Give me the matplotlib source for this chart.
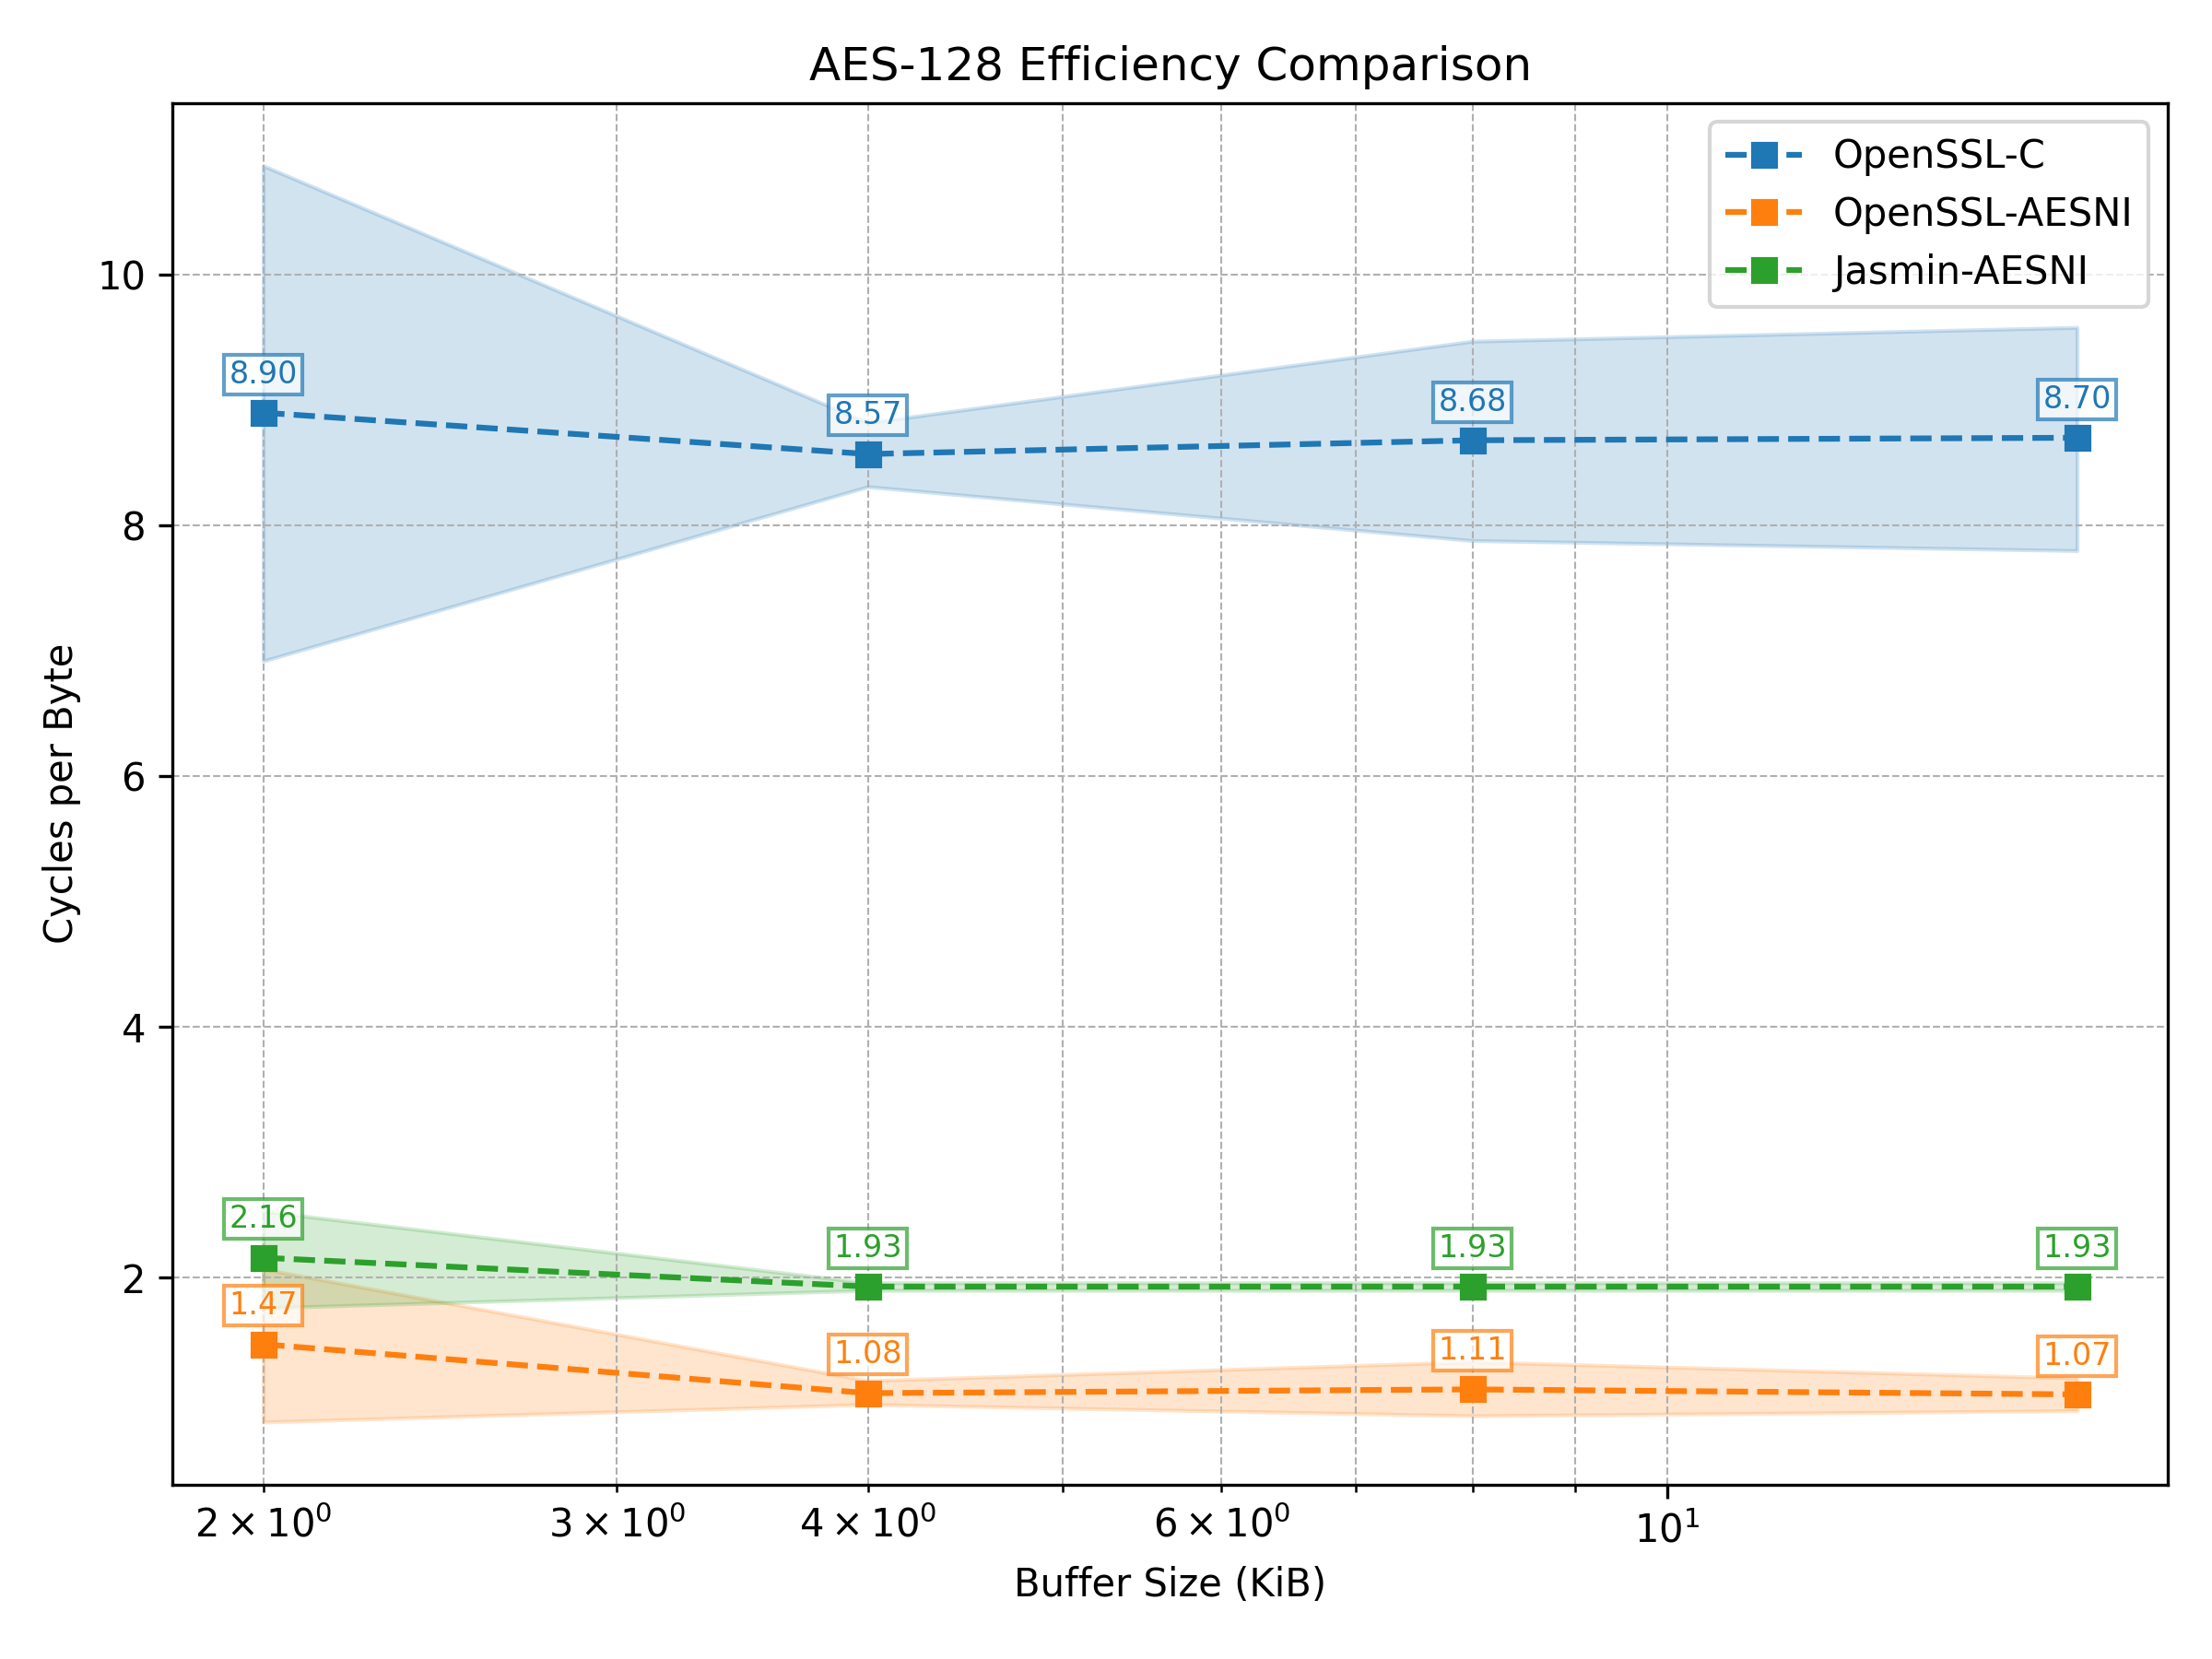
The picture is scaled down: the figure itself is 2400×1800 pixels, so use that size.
import matplotlib
matplotlib.use('Agg')
import matplotlib.pyplot as plt

sizes = [2, 4, 8, 16]

names = ['OpenSSL-C', 'OpenSSL-AESNI', 'Jasmin-AESNI']
means = {
    'OpenSSL-C': [8.90, 8.57, 8.68, 8.70],
    'OpenSSL-AESNI': [1.47, 1.08, 1.11, 1.07],
    'Jasmin-AESNI': [2.16, 1.93, 1.93, 1.93],
}
lower = {
    'OpenSSL-C': [6.92, 8.31, 7.88, 7.80],
    'OpenSSL-AESNI': [0.85, 0.99, 0.90, 0.94],
    'Jasmin-AESNI': [1.76, 1.90, 1.90, 1.90],
}
upper = {
    'OpenSSL-C': [10.87, 8.82, 9.47, 9.58],
    'OpenSSL-AESNI': [2.07, 1.18, 1.33, 1.20],
    'Jasmin-AESNI': [2.53, 1.96, 1.96, 1.96],
}
colors = ['#1f77b4', '#ff7f0e', '#2ca02c']

fig, ax = plt.subplots(figsize=(8, 6), dpi=300)

for name, c in zip(names, colors):
    ax.plot(sizes, means[name], '--s', color=c, label=name, markersize=6, linewidth=1.5)
    ax.fill_between(sizes, lower[name], upper[name], color=c, alpha=0.2)
    for x, y in zip(sizes, means[name]):
        ax.annotate(f'{y:.2f}', (x, y), textcoords='offset points', xytext=(0, 10),
                    ha='center', va='center', fontsize=8, color=c,
                    bbox=dict(boxstyle='square,pad=0.15', facecolor='white',
                              edgecolor=c, alpha=0.7))

ax.set_xscale('log')
ax.set_xlabel('Buffer Size (KiB)')
ax.set_ylabel('Cycles per Byte')
ax.set_title('AES-128 Efficiency Comparison')
ax.grid(True, which='both', linestyle='--', linewidth=0.5)
ax.legend(loc='upper right')

fig.subplots_adjust(left=0.078, right=0.980, top=0.938, bottom=0.105)
plt.savefig('out.png', dpi=300)
